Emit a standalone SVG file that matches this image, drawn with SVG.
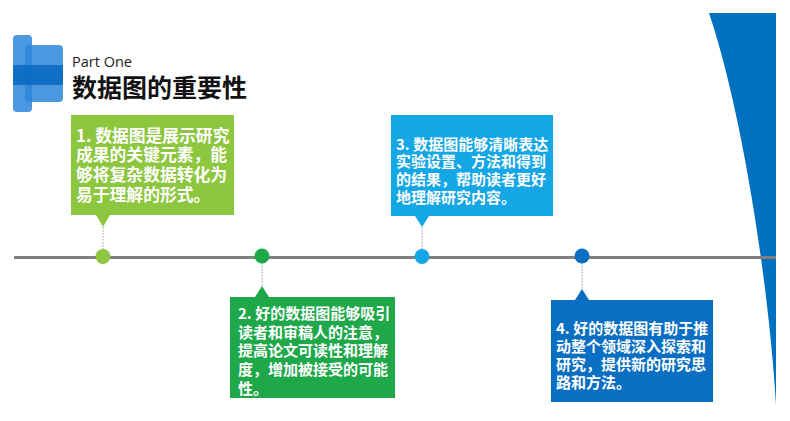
<svg xmlns="http://www.w3.org/2000/svg" width="790" height="421" viewBox="0 0 790 421">
<style>
.t{font-family:"Noto Sans CJK SC","Noto Sans",sans-serif;font-weight:700;fill:#fff}
.dot{stroke:#9a9a9a;stroke-width:1;stroke-dasharray:1.5 1.5}
.ic{fill:#2b86dc;opacity:0.85}
</style>
<rect width="790" height="421" fill="#fff"/>
<path id="swoosh" d="M709,13 H776 V405 C770,300 745,120 709,13 Z" fill="#0070c0"/>
<g id="title">
<rect class="ic" x="13" y="35" width="19" height="77" rx="4"/>
<rect class="ic" x="25" y="45" width="38" height="57" rx="4"/>
<rect x="13" y="65" width="50" height="20" fill="#0a6cc2" opacity="0.9"/>
<text x="72" y="67" font-family="'Open Sans','Noto Sans',sans-serif" font-size="14.5" fill="#222">Part One</text>
<text x="72" y="96.5" font-family="'Noto Sans CJK SC',sans-serif" font-weight="700" font-size="25" fill="#111">数据图的重要性</text>
</g>
<g id="connectors">
<line x1="14" y1="257.5" x2="776" y2="257.5" stroke="#7f7f7f" stroke-width="3"/>
<line class="dot" x1="103" y1="227" x2="103" y2="250"/>
<line class="dot" x1="262" y1="263" x2="262" y2="287"/>
<line class="dot" x1="422" y1="227" x2="422" y2="250"/>
<line class="dot" x1="582" y1="263" x2="582" y2="289"/>
</g>
<g id="node1">
<rect x="71" y="115" width="163" height="100" fill="#8dc63f"/>
<path d="M96,215 L110,215 L103,227 Z" fill="#8dc63f"/>
<circle cx="103" cy="256.5" r="7.5" fill="#8dc63f"/>
<text class="t" font-size="16.8"><tspan x="76" y="141.5">1. 数据图是展示研究</tspan><tspan x="76" y="161.2">成果的关键元素，能</tspan><tspan x="76" y="180.9">够将复杂数据转化为</tspan><tspan x="76" y="200.6">易于理解的形式。</tspan></text>
</g>
<g id="node2">
<rect x="230" y="297" width="165" height="101" fill="#1fa84a"/>
<path d="M255,297 L269,297 L262,286 Z" fill="#1fa84a"/>
<circle cx="262" cy="256" r="7.5" fill="#1fa84a"/>
<text class="t" font-size="15"><tspan x="238" y="318.7">2. 好的数据图能够吸引</tspan><tspan x="238" y="337.5">读者和审稿人的注意，</tspan><tspan x="238" y="356.3">提高论文可读性和理解</tspan><tspan x="238" y="375.1">度，增加被接受的可能</tspan><tspan x="238" y="393.9">性。</tspan></text>
</g>
<g id="node3">
<rect x="391" y="115" width="162" height="101" fill="#15a6e6"/>
<path d="M415,216 L429,216 L422,227 Z" fill="#15a6e6"/>
<circle cx="422" cy="256.5" r="7.5" fill="#15a6e6"/>
<text class="t" font-size="15"><tspan x="396" y="149.7">3. 数据图能够清晰表达</tspan><tspan x="396" y="167.4">实验设置、方法和得到</tspan><tspan x="396" y="185.1">的结果，帮助读者更好</tspan><tspan x="396" y="202.8">地理解研究内容。</tspan></text>
</g>
<g id="node4">
<rect x="551" y="300" width="162" height="102" fill="#0a6fc2"/>
<path d="M575,300 L589,300 L582,289 Z" fill="#0a6fc2"/>
<circle cx="582" cy="256" r="7.5" fill="#0a6fc2"/>
<text class="t" font-size="15"><tspan x="556" y="333.7">4. 好的数据图有助于推</tspan><tspan x="556" y="351.7">动整个领域深入探索和</tspan><tspan x="556" y="369.7">研究，提供新的研究思</tspan><tspan x="556" y="387.7">路和方法。</tspan></text>
</g>
</svg>
